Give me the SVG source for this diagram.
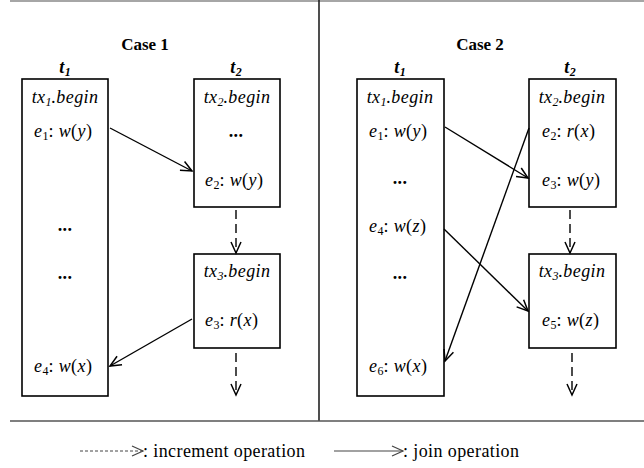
<svg xmlns="http://www.w3.org/2000/svg" width="644" height="468" viewBox="0 0 644 468">
<defs>
<marker id="ah" markerUnits="userSpaceOnUse" markerWidth="14" markerHeight="12" refX="11" refY="5" orient="auto" overflow="visible">
<path d="M0,0 L11,5 L0,10" fill="none" stroke="#000" stroke-width="1.5"/>
</marker>
<marker id="ahg" markerUnits="userSpaceOnUse" markerWidth="14" markerHeight="12" refX="11" refY="5" orient="auto" overflow="visible">
<path d="M0,0 L11,5 L0,10" fill="none" stroke="#444" stroke-width="1.2"/>
</marker>
<style>
text{font-family:"Liberation Serif","Times New Roman",serif;font-size:18px;letter-spacing:0.4px;fill:#000}
.i{font-style:italic}
.b{font-weight:bold}
.c{text-anchor:middle}
.s{font-size:12px;letter-spacing:0}
.t{font-size:17px;letter-spacing:0}
.box{fill:#fff;stroke:#000;stroke-width:1.6}
.j{stroke:#000;stroke-width:1.4;fill:none;marker-end:url(#ah)}
.d{stroke:#000;stroke-width:1.4;fill:none;stroke-dasharray:9 5;marker-end:url(#ah)}
.frame{stroke-width:1.6;fill:none}
</style>
</defs>

<g id="frame">
<line class="frame" x1="10" y1="1" x2="644" y2="1" stroke="#888"/>
<line class="frame" x1="319" y1="0" x2="319" y2="421" stroke="#222"/>
<line class="frame" x1="10" y1="421" x2="644" y2="421" stroke="#555"/>
</g>

<g id="titles">
<text class="b c t" x="145" y="50">Case 1</text>
<text class="b c t" x="480" y="50">Case 2</text>
<text class="b i c" x="65" y="73">t<tspan class="s" dy="3">1</tspan></text>
<text class="b i c" x="236" y="73">t<tspan class="s" dy="3">2</tspan></text>
<text class="b i c" x="400" y="73">t<tspan class="s" dy="3">1</tspan></text>
<text class="b i c" x="570" y="73">t<tspan class="s" dy="3">2</tspan></text>
</g>

<g id="c1-t1">
<rect class="box" x="22" y="79" width="86" height="317"/>
<text class="i c" x="65" y="103">tx<tspan class="s" dy="3">1</tspan><tspan dy="-3">.begin</tspan></text>
<text x="34" y="137"><tspan class="i">e</tspan><tspan class="s" dy="3">1</tspan><tspan dy="-3">: </tspan><tspan class="i">w</tspan>(<tspan class="i">y</tspan>)</text>
<text class="b c" x="65" y="231">...</text>
<text class="b c" x="65" y="279">...</text>
<text x="34" y="372"><tspan class="i">e</tspan><tspan class="s" dy="3">4</tspan><tspan dy="-3">: </tspan><tspan class="i">w</tspan>(<tspan class="i">x</tspan>)</text>
</g>

<g id="c1-t2">
<rect class="box" x="194" y="79" width="86" height="128"/>
<text class="i c" x="237" y="103">tx<tspan class="s" dy="3">2</tspan><tspan dy="-3">.begin</tspan></text>
<text class="b c" x="236" y="137">...</text>
<text x="205" y="186"><tspan class="i">e</tspan><tspan class="s" dy="3">2</tspan><tspan dy="-3">: </tspan><tspan class="i">w</tspan>(<tspan class="i">y</tspan>)</text>
</g>

<g id="c1-tx3">
<rect class="box" x="194" y="254" width="86" height="94"/>
<text class="i c" x="237" y="277">tx<tspan class="s" dy="3">3</tspan><tspan dy="-3">.begin</tspan></text>
<text x="205" y="326"><tspan class="i">e</tspan><tspan class="s" dy="3">3</tspan><tspan dy="-3">: </tspan><tspan class="i">r</tspan>(<tspan class="i">x</tspan>)</text>
</g>

<g id="c2-t1">
<rect class="box" x="357" y="79" width="87" height="317"/>
<text class="i c" x="400" y="103">tx<tspan class="s" dy="3">1</tspan><tspan dy="-3">.begin</tspan></text>
<text x="369" y="137"><tspan class="i">e</tspan><tspan class="s" dy="3">1</tspan><tspan dy="-3">: </tspan><tspan class="i">w</tspan>(<tspan class="i">y</tspan>)</text>
<text class="b c" x="400" y="184">...</text>
<text x="369" y="232"><tspan class="i">e</tspan><tspan class="s" dy="3">4</tspan><tspan dy="-3">: </tspan><tspan class="i">w</tspan>(<tspan class="i">z</tspan>)</text>
<text class="b c" x="400" y="279">...</text>
<text x="369" y="372"><tspan class="i">e</tspan><tspan class="s" dy="3">6</tspan><tspan dy="-3">: </tspan><tspan class="i">w</tspan>(<tspan class="i">x</tspan>)</text>
</g>

<g id="c2-t2">
<rect class="box" x="529" y="79" width="87" height="128"/>
<text class="i c" x="572" y="103">tx<tspan class="s" dy="3">2</tspan><tspan dy="-3">.begin</tspan></text>
<text x="542" y="137"><tspan class="i">e</tspan><tspan class="s" dy="3">2</tspan><tspan dy="-3">: </tspan><tspan class="i">r</tspan>(<tspan class="i">x</tspan>)</text>
<text x="542" y="186"><tspan class="i">e</tspan><tspan class="s" dy="3">3</tspan><tspan dy="-3">: </tspan><tspan class="i">w</tspan>(<tspan class="i">y</tspan>)</text>
</g>

<g id="c2-tx3">
<rect class="box" x="529" y="254" width="87" height="94"/>
<text class="i c" x="572" y="277">tx<tspan class="s" dy="3">3</tspan><tspan dy="-3">.begin</tspan></text>
<text x="542" y="326"><tspan class="i">e</tspan><tspan class="s" dy="3">5</tspan><tspan dy="-3">: </tspan><tspan class="i">w</tspan>(<tspan class="i">z</tspan>)</text>
</g>

<g id="connectors">
<line class="j" x1="110" y1="128" x2="192" y2="171"/>
<line class="j" x1="192" y1="319" x2="110" y2="366"/>
<line class="d" x1="236" y1="210" x2="236" y2="253"/>
<line class="d" x1="236" y1="353" x2="236" y2="395"/>
<line class="j" x1="445" y1="127" x2="528" y2="178"/>
<line class="j" x1="529" y1="128" x2="445" y2="361"/>
<line class="j" x1="444" y1="229" x2="528" y2="311"/>
<line class="d" x1="570" y1="210" x2="570" y2="253"/>
<line class="d" x1="572" y1="353" x2="572" y2="395"/>
</g>

<g id="legend">
<line x1="80" y1="451" x2="143" y2="451" stroke="#444" stroke-width="1" stroke-dasharray="3 2" marker-end="url(#ahg)"/>
<text x="143" y="457">: increment operation</text>
<line x1="334" y1="451" x2="403" y2="451" stroke="#444" stroke-width="1.2" marker-end="url(#ahg)"/>
<text x="403" y="457">: join operation</text>
</g>
</svg>
